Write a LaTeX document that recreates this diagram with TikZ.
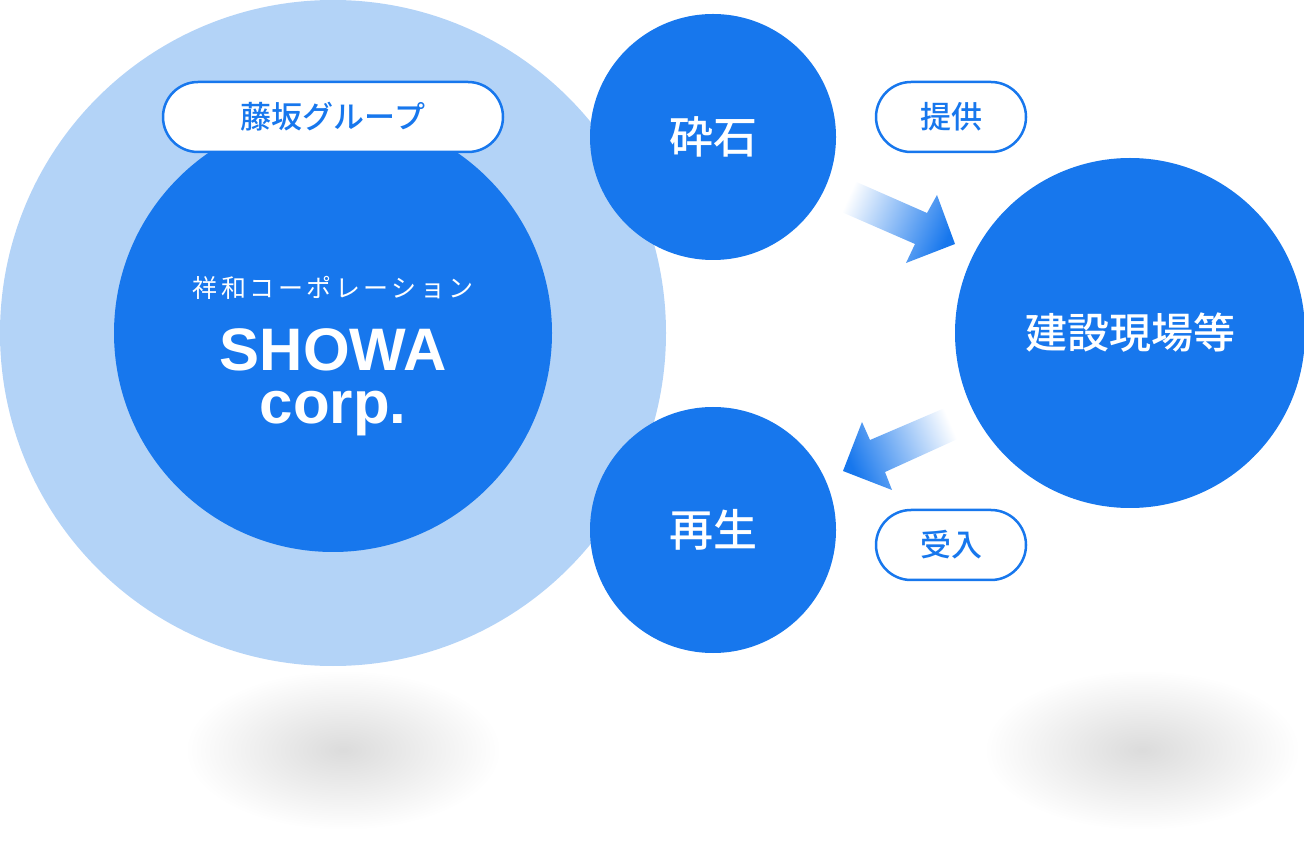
\documentclass[tikz,border=0pt]{standalone}
\usepackage{fontspec}
\setmainfont{Liberation Sans}
\newfontfamily\jp{Noto Sans CJK JP}
\newfontfamily\jpm{Noto Sans CJK JP Medium}
\definecolor{dblue}{RGB}{23,119,237}
\definecolor{lblue}{RGB}{179,211,247}
\begin{document}
\begin{tikzpicture}[x=1pt,y=1pt,
  bigc/.style={circle,inner sep=0pt,fill=dblue,text=white,font=\jpm\fontsize{44}{50}\selectfont},
  pill/.style={rectangle,rounded corners=35pt,draw=dblue,line width=2.5pt,fill=white,text=dblue,minimum height=70pt,inner sep=0pt,font=\jpm\fontsize{31}{36}\selectfont},
  shadowe/.style={inner color=black!14,outer color=white,draw=none}
]
\useasboundingbox (0,0) rectangle (1304,855);
% shadows
\shade[shadowe] (343,105) ellipse (158 and 80);
\shade[shadowe] (1142,105) ellipse (158 and 80);
% group circle
\node[circle,inner sep=0pt,fill=lblue,minimum size=666pt] (group) at (333,522) {};
\node[circle,inner sep=0pt,fill=dblue,minimum size=438pt] (showa) at (333,522) {};
\node[pill,minimum width=340pt] (grouplabel) at (333,738) {藤坂グループ};
\node[text=white,font=\jp\fontsize{25}{30}\selectfont\addfontfeatures{LetterSpace=14}] (kana) at (333,567) {祥和コーポレーション};
\node[text=white,inner sep=0pt,align=center,font=\bfseries\fontsize{60}{53}\selectfont] (showaname) at (333,473) {SHOWA\\corp.};
% process circles
\node[bigc,minimum size=246pt] (saiseki) at (713,718) {砕石};
\node[bigc,minimum size=246pt] (saisei) at (713,325) {再生};
\node[bigc,minimum size=350pt,font=\jpm\fontsize{42}{48}\selectfont] (genba) at (1130,522) {建設現場等};
% pills
\node[pill,minimum width=150pt] (teikyo) at (951,738) {提供};
\node[pill,minimum width=150pt] (ukeire) at (951,310) {受入};
% gradient arrows
\shade[left color=white,right color=dblue,shading angle=66.3]
  (852,675) -- (927,642) -- (937,660) -- (955,611) -- (906,592) -- (915,611) -- (837,645) -- cycle;
\shade[left color=white,right color=dblue,shading angle=293.2]
  (947,448) -- (870,415) -- (862,433) -- (843,384) -- (892,365) -- (885,383) -- (962,418) -- cycle;
\end{tikzpicture}
\end{document}
